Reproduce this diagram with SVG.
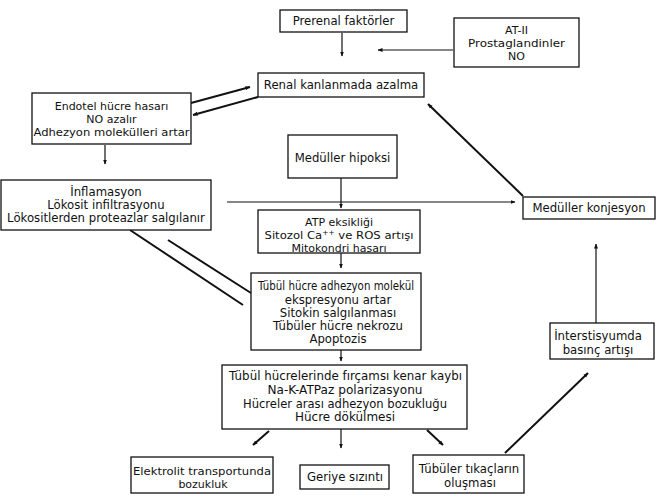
<svg xmlns="http://www.w3.org/2000/svg" width="658" height="501" viewBox="0 0 658 501">
<defs>
<marker id="ah" viewBox="0 0 10 10" refX="9" refY="5" markerWidth="5" markerHeight="5" orient="auto" markerUnits="userSpaceOnUse">
<path d="M0,1 L10,5 L0,9 z" fill="#111"/>
</marker>
<style>
.box{fill:#fff;stroke:#111;stroke-width:1.3}
text{font-family:"DejaVu Sans",Verdana,sans-serif;font-size:11.7px;fill:#111;text-anchor:middle}
.s text{font-size:11px}
.c{stroke:#111;stroke-width:1.2;fill:none}
.t{stroke:#111;stroke-width:2;fill:none}
</style>
</defs>
<rect width="658" height="501" fill="#fff"/>
<g id="connectors">
<line class="c" x1="342" y1="33" x2="342" y2="56" marker-end="url(#ah)"/>
<line class="c" x1="453" y1="50" x2="378" y2="50" marker-end="url(#ah)"/>
<line class="t" x1="191" y1="103" x2="250" y2="87" marker-end="url(#ah)"/>
<line class="t" x1="258" y1="97" x2="193" y2="115" marker-end="url(#ah)"/>
<line class="c" x1="105" y1="145" x2="105" y2="164" marker-end="url(#ah)"/>
<line class="c" x1="341" y1="178" x2="341" y2="208" marker-end="url(#ah)"/>
<line class="c" x1="227" y1="202" x2="515" y2="202" marker-end="url(#ah)"/>
<line class="c" x1="341" y1="253" x2="341" y2="268" marker-end="url(#ah)"/>
<line class="c" x1="341" y1="350" x2="341" y2="361" marker-end="url(#ah)"/>
<line class="t" x1="130" y1="230" x2="243" y2="305"/>
<line class="t" x1="168" y1="240" x2="251" y2="293"/>
<line class="t" x1="523" y1="196" x2="428" y2="104" marker-end="url(#ah)"/>
<line class="c" x1="596" y1="323" x2="596" y2="244" marker-end="url(#ah)"/>
<line class="t" x1="505" y1="453" x2="588" y2="373" marker-end="url(#ah)"/>
<line class="t" x1="269" y1="431" x2="253" y2="445" marker-end="url(#ah)"/>
<line class="c" x1="341" y1="429" x2="341" y2="448" marker-end="url(#ah)"/>
<line class="t" x1="427" y1="430" x2="443" y2="445" marker-end="url(#ah)"/>
</g>
<g id="prerenal"><rect class="box" x="280" y="10" width="127" height="22"/><text x="343.5" y="25">Prerenal faktörler</text></g>
<g id="at2" class="s"><rect class="box" x="454" y="18" width="125" height="49"/><text x="516.5" y="34">AT-II</text><text x="516.5" y="47" textLength="97" lengthAdjust="spacingAndGlyphs">Prostaglandinler</text><text x="516.5" y="60">NO</text></g>
<g id="renal"><rect class="box" x="258" y="73" width="166" height="24"/><text x="341" y="89">Renal kanlanmada azalma</text></g>
<g id="endotel" class="s"><rect class="box" x="32" y="93" width="159" height="51"/><text x="111.5" y="110">Endotel hücre hasarı</text><text x="111.5" y="123">NO azalır</text><text x="111.5" y="136" textLength="156" lengthAdjust="spacingAndGlyphs">Adhezyon molekülleri artar</text></g>
<g id="inflamasyon"><rect class="box" x="1" y="180" width="210" height="50"/><text x="106" y="196">İnflamasyon</text><text x="106" y="209">Lökosit infiltrasyonu</text><text x="106" y="222">Lökositlerden proteazlar salgılanır</text></g>
<g id="hipoksi"><rect class="box" x="288" y="135" width="109" height="43"/><text x="342.5" y="162">Medüller hipoksi</text></g>
<g id="atp" class="s"><rect class="box" x="258" y="210" width="162" height="43"/><text x="339" y="226">ATP eksikliği</text><text x="339" y="239" textLength="149" lengthAdjust="spacingAndGlyphs">Sitozol Ca<tspan font-size="7" dy="-4">++</tspan><tspan dy="4"> ve ROS artışı</tspan></text><text x="339" y="252">Mitokondri hasarı</text></g>
<g id="adhezyon"><rect class="box" x="251" y="273" width="170" height="77"/><text x="336" y="290" textLength="156" lengthAdjust="spacingAndGlyphs">Tübül hücre adhezyon molekül</text><text x="338" y="304">ekspresyonu artar</text><text x="338" y="317">Sitokin salgılanması</text><text x="338" y="330">Tübüler hücre nekrozu</text><text x="338" y="343">Apoptozis</text></g>
<g id="tubul"><rect class="box" x="222" y="365" width="245" height="64"/><text x="345.5" y="380" textLength="233" lengthAdjust="spacingAndGlyphs">Tübül  hücrelerinde fırçamsı kenar kaybı</text><text x="345" y="394" textLength="155" lengthAdjust="spacingAndGlyphs">Na-K-ATPaz polarizasyonu</text><text x="345" y="408" textLength="204" lengthAdjust="spacingAndGlyphs">Hücreler arası adhezyon bozukluğu</text><text x="345" y="421" textLength="100" lengthAdjust="spacingAndGlyphs">Hücre dökülmesi</text></g>
<g id="elektrolit" class="s"><rect class="box" x="131" y="457" width="142" height="36"/><text x="202" y="475" textLength="138" lengthAdjust="spacingAndGlyphs">Elektrolit transportunda</text><text x="203" y="488">bozukluk</text></g>
<g id="geriye"><rect class="box" x="300" y="465" width="89" height="24"/><text x="345" y="481">Geriye sızıntı</text></g>
<g id="tikac"><rect class="box" x="413" y="455" width="111" height="38"/><text x="469" y="473">Tübüler tıkaçların</text><text x="470" y="487">oluşması</text></g>
<g id="interstisyum"><rect class="box" x="550" y="323" width="104" height="36"/><text x="598" y="340">İnterstisyumda</text><text x="598" y="354">basınç artışı</text></g>
<g id="konjesyon"><rect class="box" x="523" y="197" width="132" height="22"/><text x="589" y="212">Medüller konjesyon</text></g>
</svg>
